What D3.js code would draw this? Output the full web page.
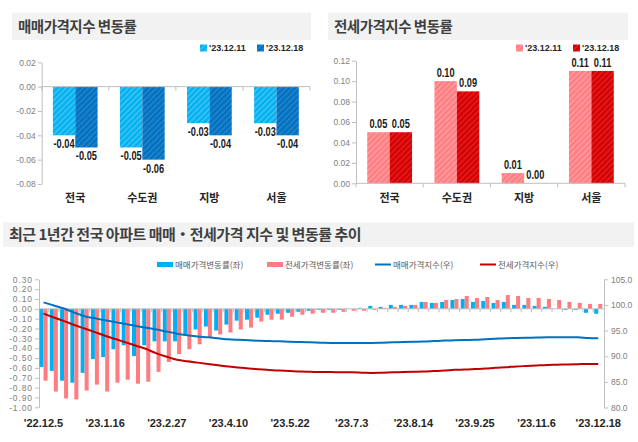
<!DOCTYPE html>
<html>
<head>
<meta charset="utf-8">
<script src="https://cdn.jsdelivr.net/npm/d3@7"></script>
<style>
  body { margin: 0; background: #fff; }
  svg { display: block; }
</style>
</head>
<body>
<div id="chart"></div>
<script>
// ---- data ----
const regions = ["전국", "수도권", "지방", "서울"]
const weekNames = ["'23.12.11", "'23.12.18"]
const saleRate1211 = [-0.04, -0.05, -0.03, -0.03]
const saleRate1218 = [-0.05, -0.06, -0.04, -0.04]
const jeonseRate1211 = [0.05, 0.10, 0.01, 0.11]
const jeonseRate1218 = [0.05, 0.09, 0.00, 0.11]

// weekly series, '22.12.5 .. '23.12.18 (55 weeks)
const weeklySaleRate = [-0.59, -0.63, -0.73, -0.75, -0.65, -0.51, -0.49, -0.41, -0.37, -0.48,
  -0.37, -0.33, -0.33, -0.33, -0.26, -0.21, -0.18, -0.22, -0.16, -0.12,
  -0.11, -0.09, -0.06, -0.05, -0.04, -0.03, -0.02, -0.01, -0.01, -0.01,
  0.00, 0.01, 0.03, 0.02, 0.04, 0.04, 0.04, 0.07, 0.06, 0.07,
  0.09, 0.10, 0.07, 0.08, 0.06, 0.07, 0.04, 0.04, 0.03, 0.02,
  0.00, -0.01, -0.01, -0.04, -0.05]
const weeklyJeonseRate = [-0.73, -0.84, -0.91, -0.92, -0.83, -0.77, -0.84, -0.75, -0.72, -0.76,
  -0.74, -0.64, -0.54, -0.46, -0.41, -0.36, -0.29, -0.26, -0.24, -0.21,
  -0.19, -0.13, -0.11, -0.11, -0.08, -0.06, -0.05, -0.04, -0.04, -0.03,
  -0.02, -0.02, -0.01, 0.01, 0.02, 0.03, 0.04, 0.07, 0.06, 0.09,
  0.10, 0.13, 0.11, 0.12, 0.09, 0.14, 0.13, 0.11, 0.11, 0.10,
  0.09, 0.07, 0.06, 0.05, 0.05]
const saleIndex = [100.5, 99.9, 99.3, 98.5, 97.8, 97.4, 97.0, 96.65, 96.3, 95.9,
  95.55, 95.2, 94.8, 94.4, 94.1, 93.85, 93.7, 93.5, 93.3, 93.2,
  93.1, 93.0, 92.95, 92.9, 92.8, 92.75, 92.7, 92.65, 92.6, 92.6,
  92.6, 92.6, 92.6, 92.65, 92.7, 92.75, 92.8, 92.85, 92.95, 93.05,
  93.1, 93.15, 93.2, 93.3, 93.4, 93.5, 93.55, 93.6, 93.65, 93.7,
  93.7, 93.7, 93.7, 93.55, 93.5]
const jeonseIndex = [98.3, 97.55, 96.85, 96.1, 95.4, 94.7, 94.0, 93.35, 92.7, 92.05,
  91.4, 90.55, 89.9, 89.3, 89.0, 88.75, 88.5, 88.25, 88.0, 87.8,
  87.6, 87.45, 87.3, 87.2, 87.1, 87.0, 86.95, 86.9, 86.9, 86.85,
  86.85, 86.8, 86.75, 86.8, 86.85, 86.9, 86.95, 87.0, 87.1, 87.2,
  87.35, 87.4, 87.5, 87.6, 87.75, 87.85, 88.0, 88.1, 88.2, 88.3,
  88.35, 88.4, 88.45, 88.5, 88.5]
const weekTickLabels = ["'22.12.5", "'23.1.16", "'23.2.27", "'23.4.10", "'23.5.22",
  "'23.7.3", "'23.8.14", "'23.9.25", "'23.11.6", "'23.12.18"]
const legendNames = ["매매가격변동률(좌)", "전세가격변동률(좌)", "매매가격지수(우)", "전세가격지수(우)"]

// ---- setup ----
const KR = "'Noto Sans CJK KR', sans-serif"
const NUM = "'Liberation Sans', Arial, sans-serif"
const AXIS = "#bfbfbf"

const svg = d3.select("#chart").append("svg")
  .attr("width", 638).attr("height", 442)

// squeeze text horizontally (no narrow font installed)
function squeeze(sel, k) {
  sel.each(function () {
    const w = this.getComputedTextLength()
    d3.select(this).attr("textLength", w * k).attr("lengthAdjust", "spacingAndGlyphs")
  })
}

// hatched fills
const defs = svg.append("defs")
const hatch = (id, base, stripe) => {
  const p = defs.append("pattern")
    .attr("id", id).attr("patternUnits", "userSpaceOnUse")
    .attr("width", 4).attr("height", 4)
    .attr("patternTransform", "rotate(45)")
  p.append("rect").attr("width", 4).attr("height", 4).attr("fill", base)
  p.append("rect").attr("width", 1.6).attr("height", 4).attr("fill", stripe)
}
hatch("hLightBlue", "#00b0f0", "#3fc4f4")
hatch("hDarkBlue", "#0070c0", "#2484cc")
hatch("hLightRed", "#ff7c80", "#ff9da0")
hatch("hDarkRed", "#d20000", "#e21e1e")

// ---- top panels ----
function titleBar(x, w, y, h, label, size) {
  svg.append("rect").attr("x", x).attr("y", y).attr("width", w).attr("height", h).attr("fill", "#f2f2f2")
  svg.append("text").attr("x", x + 6).attr("y", y + h / 2 + size * 0.36)
    .text(label).style("font-family", KR).style("font-weight", 700)
    .style("font-size", size + "px").style("letter-spacing", "-0.5px").attr("fill", "#404040")
}

function barPanel(opt) {
  const g = svg.append("g")
  titleBar(opt.left, opt.barW, 12.7, 27.3, opt.title, 14.5)
  g.append("text").attr("x", opt.left + opt.barW - 13).attr("y", 31.5).attr("text-anchor", "end")
    .text("[단위 : %]").style("font-family", KR).style("font-weight", 700)
    .style("font-size", "9px").attr("fill", "#404040")

  // legend
  opt.fills.forEach((f, i) => {
    const lx = opt.legendX + i * 57
    g.append("rect").attr("x", lx).attr("y", 44.5).attr("width", 7).attr("height", 7).attr("fill", `url(#${f})`)
    g.append("text").attr("x", lx + 9).attr("y", 51.3).text(weekNames[i])
      .style("font-family", NUM).style("font-weight", 700).style("font-size", "9px").attr("fill", "#262626")
  })

  const x = d3.scaleBand().domain(regions).range(opt.xRange).paddingInner(1 / 3).paddingOuter(1 / 6)
  const y = d3.scaleLinear().domain(opt.yDomain).range(opt.yRange)
  const bw = x.bandwidth() / 2

  // y axis
  const ax = g.append("g").attr("transform", `translate(${opt.xRange[0]},0)`)
    .call(d3.axisLeft(y).tickValues(opt.ticks).tickSize(4).tickSizeOuter(0).tickFormat(d => d.toFixed(2)))
  ax.select(".domain").attr("stroke", AXIS)
  ax.selectAll(".tick line").attr("stroke", AXIS)
  ax.selectAll(".tick text").attr("fill", "#808080").style("font-family", NUM).style("font-size", "8.5px").attr("x", -6)

  // bars
  const series = [opt.values[0], opt.values[1]]
  series.forEach((vals, s) => {
    g.append("g").selectAll("rect").data(regions).join("rect")
      .attr("x", d => x(d) + s * bw)
      .attr("y", (d, i) => Math.min(y(vals[i]), y(0)))
      .attr("width", bw)
      .attr("height", (d, i) => Math.abs(y(vals[i]) - y(0)))
      .attr("fill", `url(#${opt.fills[s]})`)
  })

  // zero line with category ticks
  g.append("line").attr("x1", opt.xRange[0]).attr("x2", opt.xRange[1])
    .attr("y1", y(0)).attr("y2", y(0)).attr("stroke", AXIS)
  const step = x.step()
  g.append("g").selectAll("line").data(d3.range(regions.length + 1)).join("line")
    .attr("x1", i => opt.xRange[0] + i * step).attr("x2", i => opt.xRange[0] + i * step)
    .attr("y1", y(0)).attr("y2", y(0) + 4).attr("stroke", AXIS)

  // value labels
  series.forEach((vals, s) => {
    g.append("g").selectAll("text").data(regions).join("text")
      .attr("x", d => x(d) + s * bw + bw / 2)
      .attr("y", (d, i) => vals[i] < 0 ? y(vals[i]) + 13 : y(vals[i]) - 4)
      .attr("text-anchor", "middle")
      .text((d, i) => vals[i].toFixed(2))
      .style("font-family", NUM).style("font-weight", 700).style("font-size", "12.5px").attr("fill", "#1a1a1a")
      .call(squeeze, 0.74)
  })

  // category labels
  g.append("g").selectAll("text").data(regions).join("text")
    .attr("x", d => x(d) + x.bandwidth() / 2).attr("y", 201.5).attr("text-anchor", "middle")
    .text(d => d).style("font-family", KR).style("font-weight", 700).style("font-size", "11px").attr("fill", "#262626")
}

barPanel({
  left: 12, barW: 299, title: "매매가격지수 변동률", legendX: 200,
  fills: ["hLightBlue", "hDarkBlue"], values: [saleRate1211, saleRate1218],
  xRange: [41.7, 310], yDomain: [-0.08, 0.02], yRange: [184, 62.3],
  ticks: [0.02, 0, -0.02, -0.04, -0.06, -0.08]
})
barPanel({
  left: 328, barW: 300, title: "전세가격지수 변동률", legendX: 516,
  fills: ["hLightRed", "hDarkRed"], values: [jeonseRate1211, jeonseRate1218],
  xRange: [356, 625], yDomain: [0, 0.12], yRange: [183.3, 60.7],
  ticks: [0.12, 0.10, 0.08, 0.06, 0.04, 0.02, 0]
})

// ---- bottom panel ----
titleBar(3, 631, 222.5, 24.5, "최근 1년간 전국 아파트 매매・전세가격 지수 및 변동률 추이", 15)

const weeks = d3.range(weeklySaleRate.length)
const xB = d3.scaleBand().domain(weeks).range([38.4, 603.4])
const yBL = d3.scaleLinear().domain([-1, 0.3]).range([407.3, 279.3])
const yBR = d3.scaleLinear().domain([80, 105]).range([407.5, 279.3])
const cx = i => xB(i) + xB.bandwidth() / 2
const bbw = xB.step() * 0.39

// legend
const lg = svg.append("g")
const legendX = [157, 267, 375, 480]
legendNames.forEach((name, i) => {
  const colors = ["#00b0f0", "#ff7c80", "#0070c0", "#c00000"]
  if (i < 2) lg.append("rect").attr("x", legendX[i]).attr("y", 262).attr("width", 16).attr("height", 5).attr("fill", colors[i])
  else lg.append("line").attr("x1", legendX[i]).attr("x2", legendX[i] + 16).attr("y1", 264.5).attr("y2", 264.5)
    .attr("stroke", colors[i]).attr("stroke-width", 2)
  lg.append("text").attr("x", legendX[i] + 18).attr("y", 267.5).text(name)
    .style("font-family", KR).style("font-size", "8.5px").attr("fill", "#595959")
})

// left axis
const axL = svg.append("g").attr("transform", "translate(39,0)")
  .call(d3.axisLeft(yBL).tickValues(d3.range(-10, 4).map(v => v / 10)).tickSize(4).tickSizeOuter(0)
    .tickFormat(d => d.toFixed(2)))
axL.select(".domain").attr("stroke", AXIS)
axL.selectAll(".tick line").attr("stroke", AXIS)
axL.selectAll(".tick text").attr("fill", "#808080").style("font-family", NUM)
  .style("font-size", "8.5px").style("letter-spacing", "0.9px").attr("x", -6)

// right axis
const axR = svg.append("g").attr("transform", "translate(604,0)")
  .call(d3.axisRight(yBR).tickValues([80, 85, 90, 95, 100, 105]).tickSize(4).tickSizeOuter(0).tickFormat(d3.format(".1f")))
axR.select(".domain").attr("stroke", AXIS)
axR.selectAll(".tick line").attr("stroke", AXIS)
axR.selectAll(".tick text").attr("fill", "#808080").style("font-family", NUM).style("font-size", "8.5px").attr("x", 7)

// bars
svg.append("g").selectAll("rect").data(weeks).join("rect")
  .attr("x", i => cx(i) - bbw)
  .attr("y", i => Math.min(yBL(weeklySaleRate[i]), yBL(0)))
  .attr("width", bbw)
  .attr("height", i => Math.abs(yBL(weeklySaleRate[i]) - yBL(0)))
  .attr("fill", "#00b0f0")
svg.append("g").selectAll("rect").data(weeks).join("rect")
  .attr("x", i => cx(i))
  .attr("y", i => Math.min(yBL(weeklyJeonseRate[i]), yBL(0)))
  .attr("width", bbw)
  .attr("height", i => Math.abs(yBL(weeklyJeonseRate[i]) - yBL(0)))
  .attr("fill", "#ff7c80")

// zero line + week ticks
svg.append("line").attr("x1", 39).attr("x2", 604).attr("y1", yBL(0)).attr("y2", yBL(0)).attr("stroke", AXIS)
svg.append("g").selectAll("line").data(weeks.slice(1)).join("line")
  .attr("x1", i => xB(i)).attr("x2", i => xB(i))
  .attr("y1", yBL(0)).attr("y2", yBL(0) + 3.5).attr("stroke", AXIS)

// index lines
const line = d3.line().x((d, i) => cx(i)).y(d => yBR(d)).curve(d3.curveMonotoneX)
svg.append("path").datum(saleIndex).attr("d", line).attr("fill", "none").attr("stroke", "#0070c0").attr("stroke-width", 2)
svg.append("path").datum(jeonseIndex).attr("d", line).attr("fill", "none").attr("stroke", "#c00000").attr("stroke-width", 2)

// week labels
svg.append("g").selectAll("text").data(weekTickLabels).join("text")
  .attr("x", (d, k) => cx(k * 6)).attr("y", 427).attr("text-anchor", "middle")
  .text(d => d).style("font-family", NUM).style("font-weight", 700).style("font-size", "11px").attr("fill", "#262626")
</script>
</body>
</html>
